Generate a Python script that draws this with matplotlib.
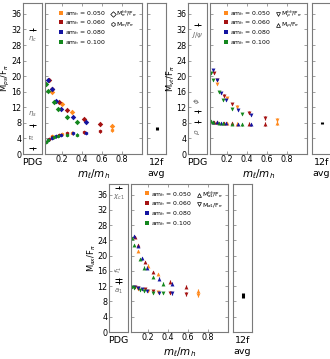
import numpy as np
import matplotlib.pyplot as plt
from matplotlib.lines import Line2D

# light-to-heavy mass ratios per am_h ensemble
x_050 = [0.10, 0.20, 0.30, 0.70]
x_060 = [0.07, 0.10, 0.167, 0.25, 0.417, 0.583]
x_080 = [0.055, 0.095, 0.135, 0.1875, 0.3125, 0.4375]
x_100 = [0.04, 0.06, 0.12, 0.16, 0.25, 0.35]
err_050 = [0.3, 0.3, 0.35, 0.5]
err_060 = [0.25, 0.25, 0.3, 0.3, 0.35, 0.45]
err_080 = [0.25, 0.25, 0.3, 0.3, 0.3, 0.35]
err_100 = [0.25, 0.25, 0.25, 0.3, 0.3, 0.3]

# pseudoscalar
ps_hh_050 = [16.0, 12.8, 10.9, 7.3]
ps_hh_060 = [19.0, 16.8, 13.3, 11.2, 9.0, 7.6]
ps_hh_080 = [19.0, 16.6, 13.5, 11.6, 9.5, 8.1]
ps_hh_100 = [17.9, 16.3, 13.3, 11.5, 9.5, 8.3]
ps_hl_050 = [4.6, 5.1, 5.5, 6.1]
ps_hl_060 = [3.9, 4.4, 4.8, 5.3, 5.6, 5.8]
ps_hl_080 = [3.6, 4.1, 4.5, 5.0, 5.3, 5.4]
ps_hl_100 = [3.1, 3.6, 4.3, 4.6, 4.9, 5.0]

# vector
vt_hh_050 = [18.0, 14.4, 12.2, 8.7]
vt_hh_060 = [20.9, 19.0, 15.0, 12.8, 10.6, 9.2]
vt_hh_080 = [21.5, 19.0, 15.7, 13.8, 11.3, 10.0]
vt_hh_100 = [20.9, 18.9, 15.9, 13.9, 11.6, 10.3]
vt_hl_050 = [8.1, 7.9, 7.8, 7.9]
vt_hl_060 = [8.3, 8.2, 8.0, 7.9, 7.8, 7.7]
vt_hl_080 = [8.3, 8.2, 8.0, 7.9, 7.7, 7.6]
vt_hl_100 = [8.4, 8.2, 8.0, 7.9, 7.7, 7.6]

# axial
ax_hh_050 = [21.3, 17.4, 15.2, 10.8]
ax_hh_060 = [24.8, 22.7, 18.3, 15.8, 13.2, 11.9]
ax_hh_080 = [25.2, 22.5, 19.3, 16.9, 14.0, 12.7]
ax_hh_100 = [24.6, 22.8, 19.1, 16.9, 14.5, 12.7]
ax_hl_050 = [11.3, 10.8, 10.5, 9.8]
ax_hl_060 = [11.8, 11.6, 11.2, 10.8, 10.3, 10.0]
ax_hl_080 = [11.8, 11.6, 11.2, 10.7, 10.2, 10.1]
ax_hl_100 = [11.7, 11.5, 11.0, 10.7, 10.3, 10.2]

# PDG values and 12f averages
ps_pdg = [31.9, 7.4, 1.5]
vt_pdg = [33.2, 11.0, 8.3]
ax_pdg = [37.8, 13.8, 13.0]
avg_12f = [6.6, 8.0, 9.6]
avg_12f_err = [0.4, 0.3, 0.6]

amh_labels = ["0.050", "0.060", "0.080", "0.100"]
colors = ["#ff8a1e", "#a51212", "#1414a0", "#14871e"]

W, H = 330, 359
fig = plt.figure(figsize=(W / 100, H / 100), dpi=100)
plt.rcParams['font.size'] = 6.5
plt.rcParams['mathtext.fontset'] = 'dejavusans'
frame = '#7a7a7a'


def px(x0, x1, y0, y1):
    return [x0 / W, 1 - y1 / H, (x1 - x0) / W, (y1 - y0) / H]


def style(ax):
    for s in ax.spines.values():
        s.set_color(frame)
        s.set_linewidth(0.8)
    ax.tick_params(direction='in', length=2, width=0.5, color=frame,
                   labelsize=5.8, pad=1)


def panel(x0, y0, y1, ylab, hh, hl, mk_hh, mk_hl, leg_hh, leg_hl,
          pdg, pdg_lab, avg, avg_err):
    yl = (0, 38.8)
    a1 = fig.add_axes(px(x0, x0 + 19, y0, y1))
    a2 = fig.add_axes(px(x0 + 22, x0 + 119, y0, y1))
    a3 = fig.add_axes(px(x0 + 124, x0 + 143, y0, y1))
    for a in (a1, a2, a3):
        style(a)
        a.set_ylim(*yl)
        a.set_yticks(np.arange(0, 37, 4))
    a1.set_xlim(0, 1)
    a1.set_xticks([])
    a1.tick_params(axis='y', right=False)
    a1.set_xlabel("PDG", fontsize=6.8, labelpad=3)
    a1.set_ylabel(ylab, fontsize=6)
    a1.yaxis.set_label_coords(-0.56, 0.5)
    for v, (lab, dy, rot) in zip(pdg, pdg_lab):
        a1.errorbar([0.5], [v], xerr=0.18, yerr=0.35, fmt='none',
                    ecolor='black', elinewidth=0.7)
        a1.text(0.5, v + dy, lab, ha='center', va='center', fontsize=5,
                color='#666666', rotation=rot)

    xs = [x_050, x_060, x_080, x_100]
    es = [err_050, err_060, err_080, err_100]
    for i in range(4):
        a2.errorbar(xs[i], hh[i], yerr=es[i], fmt=mk_hh, color=colors[i],
                    ms=2.8, elinewidth=0.8, capsize=1.2, mew=0)
        a2.errorbar(xs[i], hl[i], yerr=es[i], fmt=mk_hl, color=colors[i],
                    ms=2.8, elinewidth=0.8, capsize=1.2, mew=0)
    a2.set_xlim(0.03, 1.0)
    a2.set_xticks([0.2, 0.4, 0.6, 0.8])
    a2.set_xticklabels(["0.2", "0.4", "0.6", "0.8"])
    a2.tick_params(top=True, right=True, labelleft=False)
    a2.set_xlabel(r"$m_\ell/m_h$", fontsize=7.5, labelpad=2)
    hnd = [Line2D([], [], ls='none', marker='s', ms=2.4, color=c, mew=0)
           for c in colors]
    l1 = a2.legend(hnd, [r"am$_h$ = " + s for s in amh_labels],
                   loc='upper left', bbox_to_anchor=(0.1, 0.995),
                   fontsize=4.4, frameon=False, handlelength=0.5,
                   handletextpad=0.35, labelspacing=0.15, borderpad=0.3)
    a2.add_artist(l1)
    hnd2 = [Line2D([], [], ls='none', marker=mk_hh, ms=2.8, mfc='none',
                   mec='black', mew=0.5),
            Line2D([], [], ls='none', marker=mk_hl, ms=2.8, mfc='none',
                   mec='black', mew=0.5)]
    a2.legend(hnd2, [leg_hh, leg_hl], loc='upper left',
              bbox_to_anchor=(0.63, 0.995), fontsize=4.4, frameon=False,
              handlelength=0.5, handletextpad=0.3, labelspacing=0.05,
              borderpad=0.3)

    a3.set_xlim(0, 1)
    a3.set_xticks([])
    a3.tick_params(axis='y', left=True, right=False, labelleft=False)
    a3.errorbar([0.5], [avg], yerr=avg_err, fmt='none', ecolor='black',
                elinewidth=2.2)
    a3.set_xlabel("12f\navg", fontsize=6.8, labelpad=3, linespacing=1.3)


panel(23, 3, 154, r"M$_{ps}$/F$_\pi$",
      [ps_hh_050, ps_hh_060, ps_hh_080, ps_hh_100],
      [ps_hl_050, ps_hl_060, ps_hl_080, ps_hl_100],
      'D', 'h', r"M$_\pi^{hh}$/F$_\pi$", r"M$_\pi$/F$_\pi$",
      ps_pdg, [(r"$\eta_c$", -2.4, 0), (r"$\eta_s$", 2.8, 0),
               (r"$\pi$", 3.0, 90)], avg_12f[0], avg_12f_err[0])

panel(188, 3, 154, r"M$_{vt}$/F$_\pi$",
      [vt_hh_050, vt_hh_060, vt_hh_080, vt_hh_100],
      [vt_hl_050, vt_hl_060, vt_hl_080, vt_hl_100],
      'v', '^', r"M$_\rho^{hh}$/F$_\pi$", r"M$_\rho$/F$_\pi$",
      vt_pdg, [(r"$J/\psi$", -2.6, 0), (r"$\phi$", 2.6, 90),
               (r"$\rho$", -2.6, 90)], avg_12f[1], avg_12f_err[1])

panel(109, 184, 332, r"M$_{ax}$/F$_\pi$",
      [ax_hh_050, ax_hh_060, ax_hh_080, ax_hh_100],
      [ax_hl_050, ax_hl_060, ax_hl_080, ax_hl_100],
      '^', 'v', r"M$_{a1}^{hh}$/F$_\pi$", r"M$_{a1}$/F$_\pi$",
      ax_pdg, [(r"$\chi_{c1}$", -2.4, 0), (r"$f_1$", 2.6, 90),
               (r"$a_1$", -2.4, 0)], avg_12f[2], avg_12f_err[2])

fig.savefig("out.png", dpi=100)
